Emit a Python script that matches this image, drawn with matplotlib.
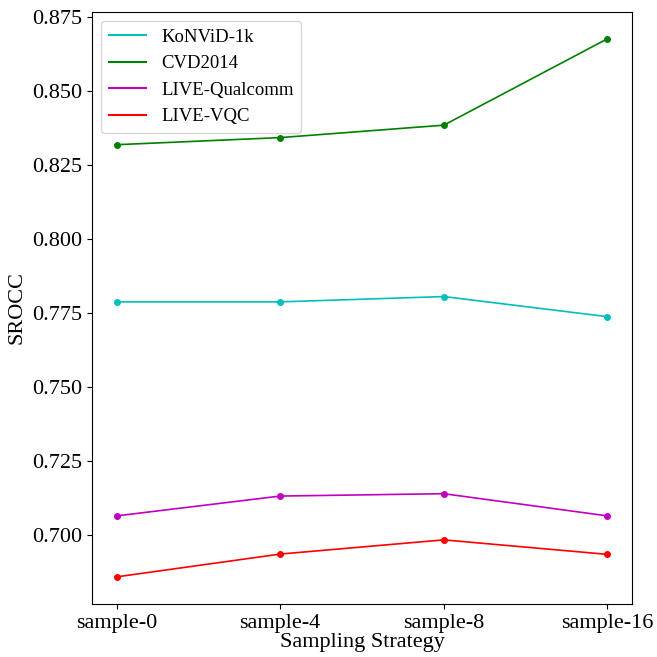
import matplotlib.pyplot as plt
from matplotlib.lines import Line2D

# data
strategies = ['sample-0', 'sample-4', 'sample-8', 'sample-16']
konvid = [0.7787, 0.7787, 0.7805, 0.7737]
cvd2014 = [0.8318, 0.8342, 0.8384, 0.8676]
qualcomm = [0.7064, 0.7131, 0.7139, 0.7064]
vqc = [0.6858, 0.6935, 0.6983, 0.6934]

names = ['KoNViD-1k', 'CVD2014', 'LIVE-Qualcomm', 'LIVE-VQC']
colors = ['c', 'g', 'm', 'r']

plt.rcParams['font.family'] = ['Liberation Serif', 'DejaVu Serif']

fig = plt.figure(figsize=(6.57, 6.57), dpi=100)
ax = fig.add_axes([0.140, 0.081, 0.822, 0.901])

x = range(len(strategies))
for vals, c in zip([konvid, cvd2014, qualcomm, vqc], colors):
    ax.plot(x, vals, color=c, marker='o', markersize=4, linewidth=1.2)

ax.set_xticks(list(x))
ax.set_xticklabels(strategies, fontsize=16)
ax.tick_params(axis='y', labelsize=16)
ax.yaxis.set_major_formatter(plt.FormatStrFormatter('%.3f'))
ax.set_xlabel('Sampling Strategy', fontsize=16, labelpad=0)
ax.set_ylabel('SROCC', fontsize=16)

# legend shows lines only
handles = [Line2D([], [], color=c, linewidth=1.5) for c in colors]
ax.legend(handles, names, loc='upper left', fontsize=13.5, handlelength=2.0)

fig.savefig('out.png', dpi=100)
